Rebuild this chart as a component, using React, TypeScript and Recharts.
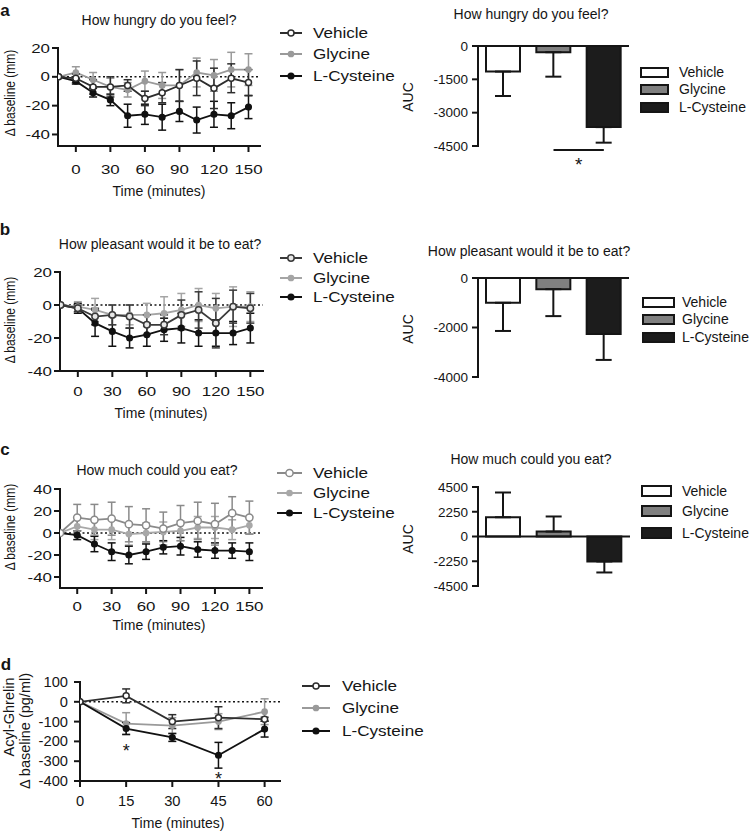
import React from "react";
import {
  LineChart,
  Line,
  BarChart,
  Bar,
  Cell,
  XAxis,
  YAxis,
  ErrorBar,
  ReferenceLine,
  ReferenceDot,
} from "recharts";

const FONT = '"Liberation Sans", Arial, Helvetica, sans-serif';
const INK = "#151515";

// ---- data ----
const groups = ["Vehicle", "Glycine", "L-Cysteine"];
const vasTimes = [-15, 0, 15, 30, 45, 60, 75, 90, 105, 120, 135, 150];
const vasTicks = [0, 30, 60, 90, 120, 150];

const hungryVehicle = [0, -1, -7, -7, -6, -15, -11, -6, -1, -8, -1, -4];
const hungryVehicleErr = [0, 3, 5, 7, 4, 5, 7, 11, 12, 14, 10, 9];
const hungryGlycine = [0, 3, -2, -7, -9, -3, -6, -6, 3, 1, 5, 5];
const hungryGlycineErr = [0, 4, 5, 6, 5, 7, 9, 11, 10, 11, 12, 11];
const hungryCys = [0, -3, -11, -16, -27, -26, -28, -24, -30, -26, -27, -21];
const hungryCysErr = [0, 2, 3, 4, 8, 7, 9, 7, 9, 9, 9, 8];

const pleasantVehicle = [0, -2, -7, -6, -7, -12, -12, -6, -3, -11, -1, -2];
const pleasantVehicleErr = [0, 2, 5, 6, 7, 6, 6, 9, 11, 15, 10, 9];
const pleasantGlycine = [0, -1, -3, -6, -6, -6, -5, -3, 0, -2, -1, -1];
const pleasantGlycineErr = [0, 3, 7, 6, 6, 7, 10, 10, 10, 9, 12, 9];
const pleasantCys = [0, -2, -11, -16, -20, -18, -15, -14, -17, -17, -17, -14];
const pleasantCysErr = [0, 3, 8, 9, 6, 7, 7, 9, 8, 8, 7, 9];

const muchVehicle = [0, 14, 12, 13, 8, 7, 4, 9, 11, 8, 18, 14];
const muchVehicleErr = [0, 12, 14, 15, 16, 15, 15, 16, 17, 19, 15, 15];
const muchGlycine = [0, 6, 3, 3, -1, 0, 1, 2, 5, 5, 3, 7];
const muchGlycineErr = [0, 8, 9, 9, 10, 9, 9, 9, 10, 10, 9, 8];
const muchCys = [0, -2, -10, -17, -20, -17, -13, -12, -15, -16, -16, -17];
const muchCysErr = [0, 4, 7, 8, 8, 7, 6, 8, 7, 7, 7, 8];

const ghrelinTimes = [0, 15, 30, 45, 60];
const ghrelinVehicle = [0, 30, -100, -80, -88];
const ghrelinVehicleErr = [0, 35, 35, 55, 10];
const ghrelinGlycine = [0, -110, -120, -100, -50];
const ghrelinGlycineErr = [0, 55, 40, 40, 65];
const ghrelinCys = [0, -135, -180, -270, -138];
const ghrelinCysErr = [0, 30, 20, 65, 40];

const aucHungry = [-1150, -280, -3650];
const aucHungryErr = [1100, 1100, 700];
const aucPleasant = [-1000, -450, -2260];
const aucPleasantErr = [1140, 1090, 1050];
const aucMuch = [1750, 450, -2270];
const aucMuchErr = [2250, 1370, 1000];

// ---- styles ----
const barFills = ["#ffffff", "#808080", "#1c1c1c"];
const axisStyle = { stroke: INK, strokeWidth: 2, strokeLinecap: "square" as const };

type SeriesCfg = {
  name: string;
  values: number[];
  errors: number[];
  stroke: string;
  fill: string;
  r: number;
};

const mk = (vals: number[][], errs: number[][], strokes: string[], fills: string[], rs: number[]): SeriesCfg[] =>
  groups.map((name, i) => ({ name, values: vals[i], errors: errs[i], stroke: strokes[i], fill: fills[i], r: rs[i] }));

const XTick = (p: any) => (
  <text
    transform={`translate(${p.x},${p.y}) scale(${p.sx ?? 1},1)`}
    textAnchor="middle"
    dy="0.71em"
    fontSize={p.fs ?? 13}
    fill={INK}
    fontFamily={FONT}
  >
    {p.payload.value}
  </text>
);

const YTick = (p: any) => (
  <text
    transform={`translate(${p.x},${p.y}) scale(${p.sx ?? 1},1)`}
    textAnchor="end"
    dy="0.355em"
    fontSize={p.fs ?? 13}
    fill={INK}
    fontFamily={FONT}
  >
    {p.payload.value}
  </text>
);

const Txt = ({ x, y, children, size = 14, rotate = false, bold = false, sx = 1, sy = 1 }: any) => (
  <div
    style={{
      position: "absolute",
      left: x,
      top: y,
      transform: `translate(-50%,-50%) ${rotate ? "rotate(-90deg)" : ""} scale(${sx},${sy})`,
      whiteSpace: "nowrap",
      fontSize: size,
      fontFamily: FONT,
      fontWeight: bold ? 700 : 400,
      color: INK,
      lineHeight: 1,
    }}
  >
    {children}
  </div>
);

const LineLegend = ({ x1, x2, textX, ys, items }: { x1: number; x2: number; textX: number; ys: number[]; items: SeriesCfg[] }) => (
  <>
    {items.map((s, i) => (
      <React.Fragment key={s.name}>
        <svg style={{ position: "absolute", left: x1, top: ys[i] - 6 }} width={x2 - x1} height={12}>
          <line x1={0} y1={6} x2={x2 - x1} y2={6} stroke={s.stroke} strokeWidth={2} />
          <circle cx={(x2 - x1) / 2} cy={6} r={s.r} fill={s.fill} stroke={s.stroke} strokeWidth={1.5} />
        </svg>
        <div
          style={{
            position: "absolute",
            left: textX,
            top: ys[i],
            transform: "translateY(-50%) scaleX(1.22)",
            transformOrigin: "left center",
            fontSize: 14,
            fontFamily: FONT,
            color: INK,
            lineHeight: 1,
            whiteSpace: "nowrap",
          }}
        >
          {s.name}
        </div>
      </React.Fragment>
    ))}
  </>
);

const BarLegend = ({ x, w, h, textX, ys }: { x: number; w: number; h: number; textX: number; ys: number[] }) => (
  <>
    {groups.map((g, i) => (
      <React.Fragment key={g}>
        <svg style={{ position: "absolute", left: x, top: ys[i] - h / 2 - 1 }} width={w + 2} height={h + 2}>
          <rect x={1} y={1} width={w} height={h} fill={barFills[i]} stroke={INK} strokeWidth={2} />
        </svg>
        <div
          style={{
            position: "absolute",
            left: textX,
            top: ys[i],
            transform: "translateY(-50%)",
            fontSize: 14,
            fontFamily: FONT,
            color: INK,
            lineHeight: 1,
            whiteSpace: "nowrap",
          }}
        >
          {g}
        </div>
      </React.Fragment>
    ))}
  </>
);

type LinePanelProps = {
  top: number;
  height: number;
  times: number[];
  series: SeriesCfg[];
  xDomain: [number, number];
  xTicks: number[];
  yDomain: [number, number];
  yTicks: number[];
  margin: { top: number; right: number; bottom: number; left: number };
  yWidth: number;
  xTickMargin: number;
  yTickMargin: number;
  tickSx: number;
  tickFs: number;
  children?: React.ReactNode;
};

const LinePanel = (p: LinePanelProps) => {
  const rows = p.times.map((t, i) => {
    const row: Record<string, number> = { t };
    p.series.forEach((s, k) => {
      row["v" + k] = s.values[i];
      row["e" + k] = s.errors[i];
    });
    return row;
  });
  return (
    <div style={{ position: "absolute", left: 0, top: p.top }}>
      <LineChart width={380} height={p.height} data={rows} margin={p.margin}>
        <XAxis
          dataKey="t"
          type="number"
          domain={p.xDomain}
          ticks={p.xTicks}
          interval={0}
          allowDataOverflow
          height={30}
          axisLine={axisStyle}
          tickLine={axisStyle}
          tickSize={5}
          tickMargin={p.xTickMargin}
          tick={<XTick sx={p.tickSx} fs={p.tickFs} />}
        />
        <YAxis
          type="number"
          domain={p.yDomain}
          ticks={p.yTicks}
          interval={0}
          allowDataOverflow
          width={p.yWidth}
          axisLine={axisStyle}
          tickLine={axisStyle}
          tickSize={5}
          tickMargin={p.yTickMargin}
          tick={<YTick sx={p.tickSx} fs={p.tickFs} />}
        />
        <ReferenceLine y={0} stroke={INK} strokeWidth={1.5} strokeDasharray="2 2.5" />
        {[1, 2, 0].map((k) => {
          const s = p.series[k];
          return (
            <Line
              key={s.name}
              dataKey={"v" + k}
              stroke={s.stroke}
              strokeWidth={1.8}
              dot={{ r: s.r, fill: s.fill, stroke: s.stroke, strokeWidth: 1.5 }}
              activeDot={false}
              isAnimationActive={false}
            >
              <ErrorBar dataKey={"e" + k} width={4} stroke={s.stroke} strokeWidth={1.5} />
            </Line>
          );
        })}
        {p.children}
      </LineChart>
    </div>
  );
};

type BarPanelProps = {
  top: number;
  values: number[];
  errors: number[];
  yDomain: [number, number];
  yTicks: number[];
  margin: { top: number; right: number; bottom: number; left: number };
  children?: React.ReactNode;
};

const BarPanel = (p: BarPanelProps) => {
  const rows = groups.map((name, i) => ({
    name,
    value: p.values[i],
    err: p.values[i] < 0 ? [p.errors[i], 0] : [0, p.errors[i]],
  }));
  return (
    <div style={{ position: "absolute", left: 380, top: p.top }}>
      <BarChart width={370} height={200} data={rows} margin={p.margin} barSize={34}>
        <XAxis dataKey="name" hide height={0} />
        <YAxis
          type="number"
          domain={p.yDomain}
          ticks={p.yTicks}
          interval={0}
          width={98}
          axisLine={axisStyle}
          tickLine={axisStyle}
          tickSize={5}
          tickMargin={5}
          tick={<YTick fs={13.5} />}
        />
        <Bar dataKey="value" stroke={INK} strokeWidth={2} isAnimationActive={false}>
          {rows.map((r, i) => (
            <Cell key={r.name} fill={barFills[i]} />
          ))}
          <ErrorBar dataKey="err" width={8} stroke={INK} strokeWidth={2} />
        </Bar>
        <ReferenceLine y={0} stroke={INK} strokeWidth={2} />
        {p.children}
      </BarChart>
    </div>
  );
};

const darkSet = (vals: number[][], errs: number[][]) =>
  mk(vals, errs, ["#2e2e2e", "#9a9a9a", "#111111"], ["#ffffff", "#9a9a9a", "#111111"], [3, 2.6, 2.8]);

const hungrySeries = darkSet(
  [hungryVehicle, hungryGlycine, hungryCys],
  [hungryVehicleErr, hungryGlycineErr, hungryCysErr]
);
const pleasantSeries = mk(
  [pleasantVehicle, pleasantGlycine, pleasantCys],
  [pleasantVehicleErr, pleasantGlycineErr, pleasantCysErr],
  ["#3a3a3a", "#a5a5a5", "#111111"],
  ["#e8e8e8", "#a5a5a5", "#111111"],
  [3.2, 2.6, 2.8]
);
const muchSeries = mk(
  [muchVehicle, muchGlycine, muchCys],
  [muchVehicleErr, muchGlycineErr, muchCysErr],
  ["#8a8a8a", "#a8a8a8", "#111111"],
  ["#ffffff", "#a8a8a8", "#111111"],
  [3.6, 2.6, 2.8]
);
const ghrelinSeries = darkSet(
  [ghrelinVehicle, ghrelinGlycine, ghrelinCys],
  [ghrelinVehicleErr, ghrelinGlycineErr, ghrelinCysErr]
);

const starLabel = { value: "*", position: "center" as const, fontSize: 18, fill: INK, fontFamily: FONT };

export default function App() {
  return (
    <div
      style={{
        position: "absolute",
        left: 0,
        top: 0,
        width: 750,
        height: 831,
        background: "#fff",
        overflow: "hidden",
        fontFamily: FONT,
      }}
    >
      {/* panel a */}
      <LinePanel
        top={0}
        height={200}
        times={vasTimes}
        series={hungrySeries}
        xDomain={[-15.5, 160]}
        xTicks={vasTicks}
        yDomain={[-48, 20]}
        yTicks={[20, 0, -20, -40]}
        margin={{ top: 48, right: 120, bottom: 24, left: 0 }}
        yWidth={58}
        xTickMargin={14}
        yTickMargin={3}
        tickSx={1.3}
        tickFs={13}
      />
      <BarPanel
        top={0}
        values={aucHungry}
        errors={aucHungryErr}
        yDomain={[-4500, 0]}
        yTicks={[0, -1500, -3000, -4500]}
        margin={{ top: 46, right: 121, bottom: 54, left: 0 }}
      >
        <ReferenceLine
          segment={[
            { x: "Glycine", y: -4680 },
            { x: "L-Cysteine", y: -4680 },
          ]}
          ifOverflow="visible"
          stroke={INK}
          strokeWidth={2}
          label={{ value: "*", position: "bottom", offset: 8, fontSize: 19, fill: INK, fontFamily: FONT }}
        />
      </BarPanel>

      {/* panel b */}
      <LinePanel
        top={210}
        height={200}
        times={vasTimes}
        series={pleasantSeries}
        xDomain={[-15.5, 161]}
        xTicks={vasTicks}
        yDomain={[-40, 20]}
        yTicks={[20, 0, -20, -40]}
        margin={{ top: 62, right: 117, bottom: 9, left: 0 }}
        yWidth={60}
        xTickMargin={11}
        yTickMargin={3}
        tickSx={1.3}
        tickFs={13}
      />
      <BarPanel
        top={210}
        values={aucPleasant}
        errors={aucPleasantErr}
        yDomain={[-4000, 0]}
        yTicks={[0, -2000, -4000]}
        margin={{ top: 68, right: 121, bottom: 33, left: 0 }}
      />

      {/* panel c */}
      <LinePanel
        top={410}
        height={210}
        times={vasTimes}
        series={muchSeries}
        xDomain={[-15, 161]}
        xTicks={vasTicks}
        yDomain={[-50, 40]}
        yTicks={[40, 20, 0, -20, -40]}
        margin={{ top: 79, right: 118, bottom: 2, left: 0 }}
        yWidth={60}
        xTickMargin={9}
        yTickMargin={3}
        tickSx={1.3}
        tickFs={13}
      />
      <BarPanel
        top={410}
        values={aucMuch}
        errors={aucMuchErr}
        yDomain={[-4500, 4500]}
        yTicks={[4500, 2250, 0, -2250, -4500]}
        margin={{ top: 77, right: 120, bottom: 24, left: 0 }}
      />

      {/* panel d */}
      <LinePanel
        top={620}
        height={200}
        times={ghrelinTimes}
        series={ghrelinSeries}
        xDomain={[0, 65]}
        xTicks={[0, 15, 30, 45, 60]}
        yDomain={[-400, 100]}
        yTicks={[100, 0, -100, -200, -300, -400]}
        margin={{ top: 62, right: 100, bottom: 9, left: 0 }}
        yWidth={80}
        xTickMargin={10}
        yTickMargin={7}
        tickSx={1.05}
        tickFs={14}
      >
        <ReferenceDot x={15} y={-247} r={1} fill="none" stroke="none" ifOverflow="visible" label={starLabel} />
        <ReferenceDot x={45} y={-387} r={1} fill="none" stroke="none" ifOverflow="visible" label={starLabel} />
      </LinePanel>

      {/* panel letters */}
      <Txt x={5} y={10} size={17} bold>a</Txt>
      <Txt x={5} y={229} size={17} bold>b</Txt>
      <Txt x={5} y={449} size={17} bold>c</Txt>
      <Txt x={6} y={664} size={17} bold>d</Txt>

      {/* titles */}
      <Txt x={159} y={20}>How  hungry do you feel?</Txt>
      <Txt x={531} y={14}>How  hungry do you feel?</Txt>
      <Txt x={160} y={244}>How  pleasant would it be to eat?</Txt>
      <Txt x={529} y={251}>How  pleasant would it be to eat?</Txt>
      <Txt x={157} y={470}>How  much could you eat?</Txt>
      <Txt x={531} y={459}>How  much could you eat?</Txt>

      {/* axis titles */}
      <Txt x={159} y={191}>Time (minutes)</Txt>
      <Txt x={161} y={413}>Time (minutes)</Txt>
      <Txt x={159} y={625}>Time (minutes)</Txt>
      <Txt x={178} y={823}>Time (minutes)</Txt>
      <Txt x={10} y={93} size={12} rotate sy={1.2}>Δ baseline (mm)</Txt>
      <Txt x={10} y={320} size={12} rotate sy={1.2}>Δ baseline (mm)</Txt>
      <Txt x={10} y={527} size={12} rotate sy={1.2}>Δ baseline (mm)</Txt>
      <Txt x={9} y={717} size={14.5} rotate>Acyl-Ghrelin</Txt>
      <Txt x={25} y={731} size={14.5} rotate>Δ baseline (pg/ml)</Txt>
      <Txt x={408} y={97} rotate>AUC</Txt>
      <Txt x={408} y={329} rotate>AUC</Txt>
      <Txt x={408} y={539} rotate>AUC</Txt>

      {/* legends */}
      <LineLegend x1={280} x2={302} textX={313} ys={[33, 54, 76]} items={hungrySeries} />
      <LineLegend x1={280} x2={302} textX={313} ys={[258, 278, 297]} items={pleasantSeries} />
      <LineLegend x1={277} x2={302} textX={313} ys={[473, 493, 513]} items={muchSeries} />
      <LineLegend x1={302} x2={330} textX={342} ys={[686, 708, 731]} items={ghrelinSeries} />
      <BarLegend x={640} w={27} h={9} textX={679} ys={[72, 89, 107]} />
      <BarLegend x={642} w={31} h={9} textX={682} ys={[302, 319, 337]} />
      <BarLegend x={641} w={29} h={10} textX={682} ys={[491, 511, 533]} />
    </div>
  );
}
